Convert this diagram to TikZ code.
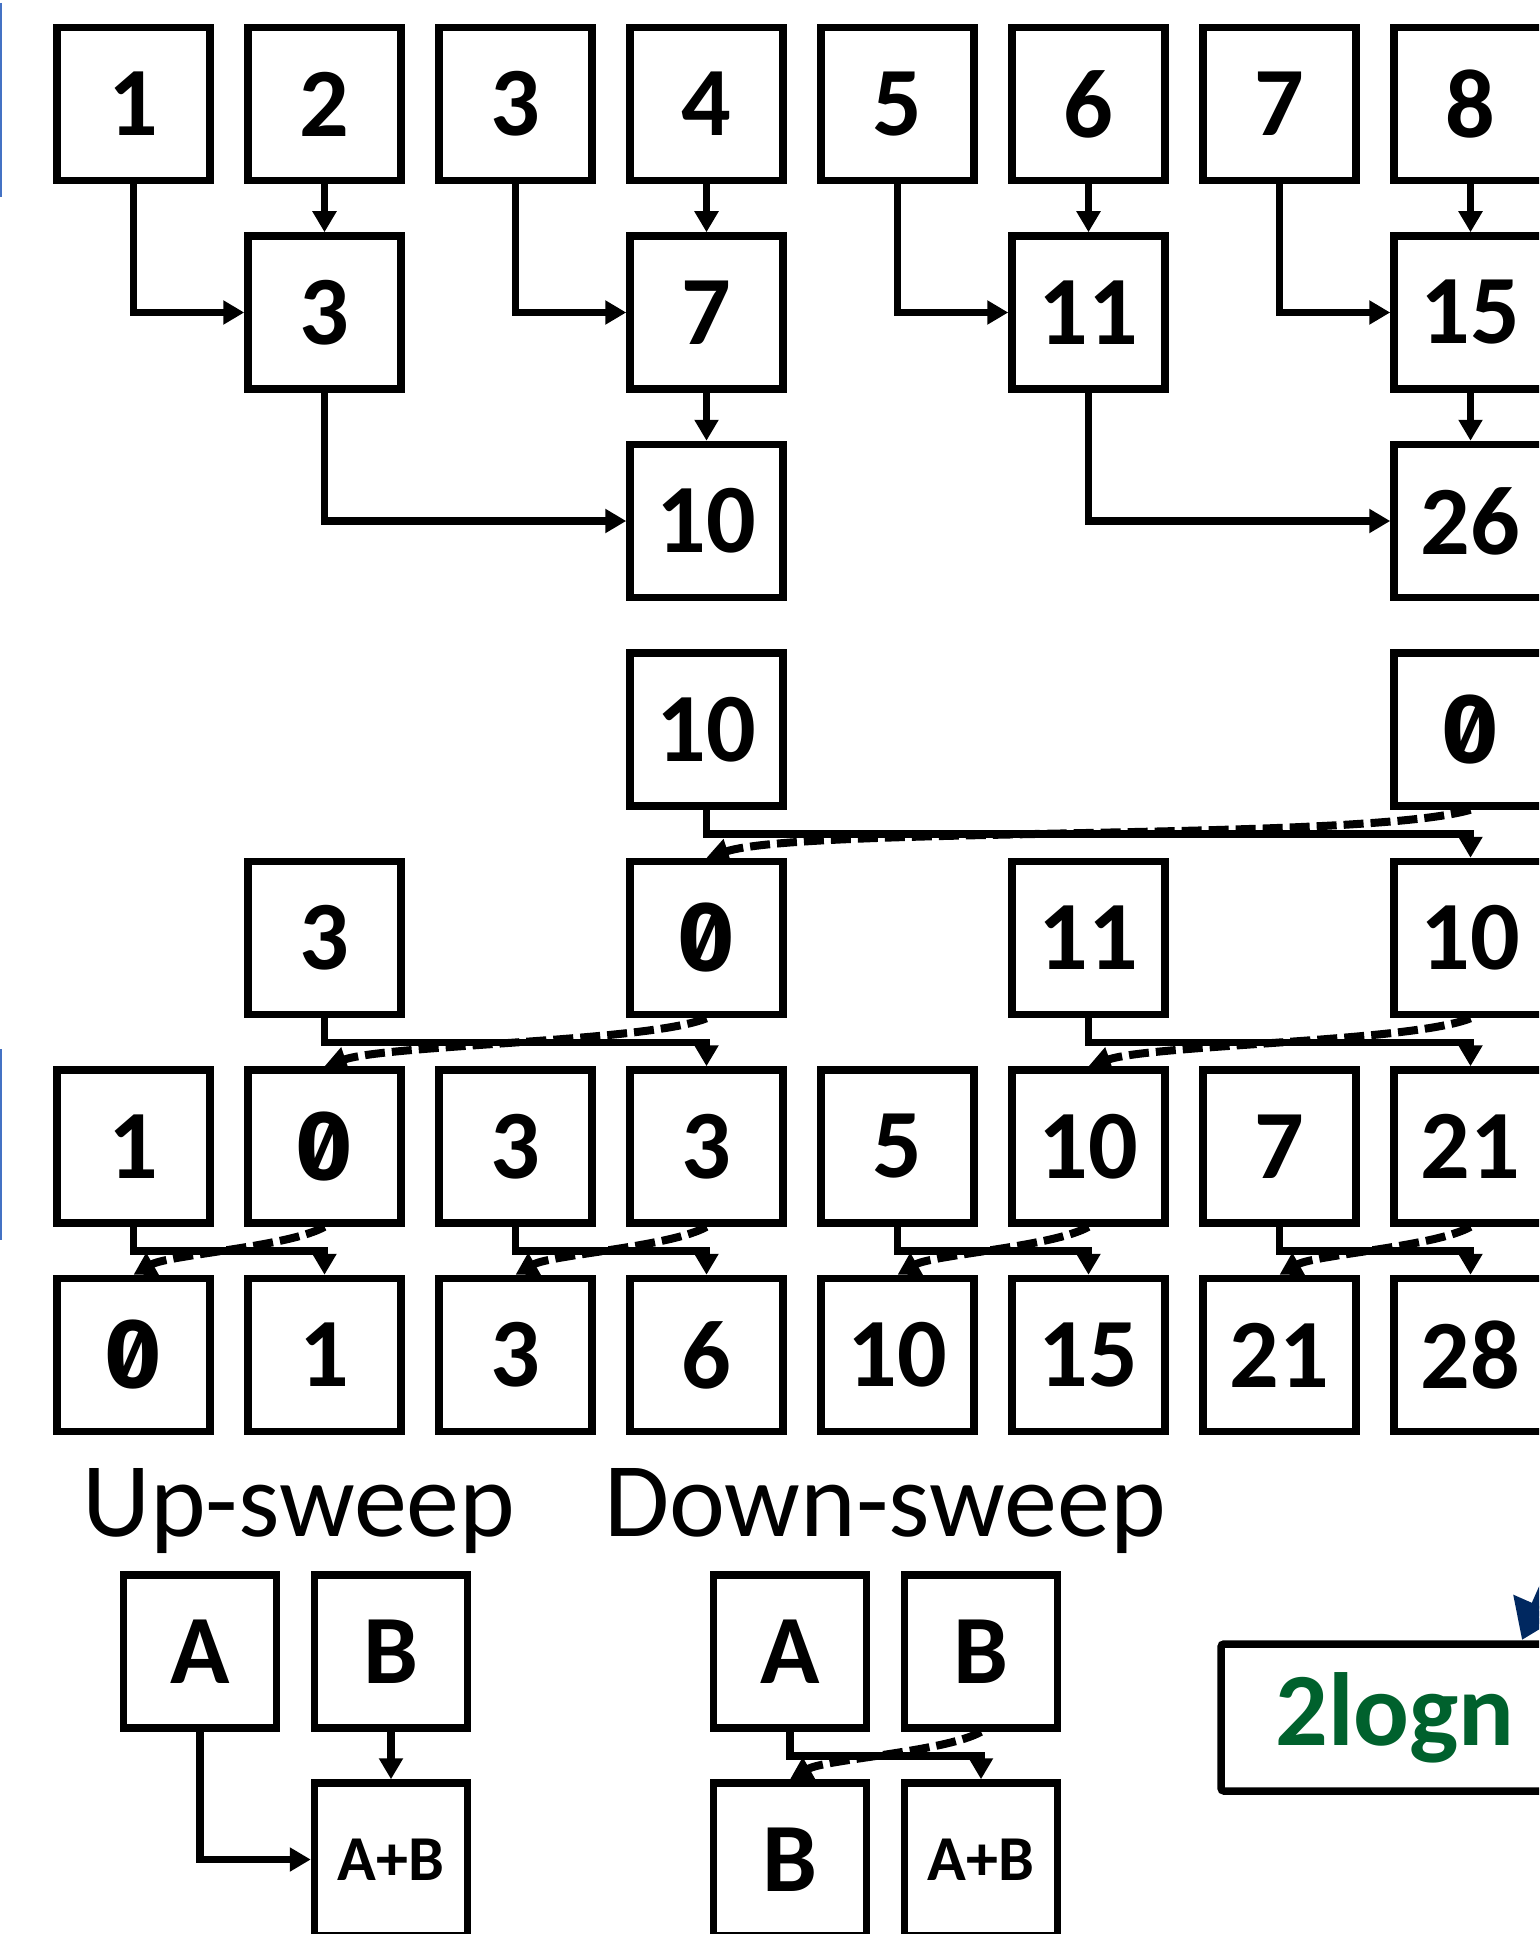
\documentclass[tikz,border=0pt]{standalone}
\usepackage{fontspec}
\setmainfont{Carlito}
\newfontfamily\zerofont[RawFeature=+zero]{Fira Sans}
\usetikzlibrary{arrows.meta,calc}
\definecolor{lgreen}{RGB}{0,97,45}
\definecolor{navyarrow}{RGB}{0,40,96}
\definecolor{leftblue}{RGB}{68,114,196}
\begin{document}
\begin{tikzpicture}[x=1pt,y=1pt,
  cell/.style={draw, line width=7.5pt, minimum width=153pt, minimum height=153pt, inner sep=0pt,
    font=\fontsize{98}{98}\selectfont\bfseries},
  zcell/.style={cell, font=\fontsize{98}{98}\selectfont\bfseries\zerofont},
  smallcell/.style={cell, font=\fontsize{64}{64}\selectfont\bfseries},
  link/.style={line width=7.5pt, -{Triangle[length=21pt,width=23pt]}},
  dlink/.style={line width=8pt, dash pattern=on 20pt off 7pt, -{Triangle[length=22pt,width=24pt]}},
  sweeplabel/.style={anchor=base west, inner sep=0pt, font=\fontsize{106}{106}\selectfont},
]
\clip (0,0) rectangle (1539,-1934);
\fill[white] (0,0) rectangle (1539,-1934);

% ---------- row 1 ----------
\foreach \v [count=\i] in {1,2,3,4,5,6,7,8}
  \node[cell] (r1c\i) at ({133.5+191*(\i-1)}, -104) {\v};
% ---------- row 2 ----------
\node[cell] (r2c2) at (324.5,-312.5) {3};
\node[cell] (r2c4) at (706.5,-312.5) {7};
\node[cell] (r2c6) at (1088.5,-312.5) {11};
\node[cell] (r2c8) at (1470.5,-312.5) {15};
% ---------- row 3 ----------
\node[cell] (r3c4) at (706.5,-521) {10};
\node[cell] (r3c8) at (1470.5,-521) {26};
% ---------- row 4 ----------
\node[cell]  (r4c4) at (706.5,-729.5) {10};
\node[zcell] (r4c8) at (1470.5,-729.5) {0};
% ---------- row 5 ----------
\node[cell]  (r5c2) at (324.5,-938) {3};
\node[zcell] (r5c4) at (706.5,-938) {0};
\node[cell]  (r5c6) at (1088.5,-938) {11};
\node[cell]  (r5c8) at (1470.5,-938) {10};
% ---------- row 6 ----------
\node[cell]  (r6c1) at (133.5,-1146.5) {1};
\node[zcell] (r6c2) at (324.5,-1146.5) {0};
\node[cell]  (r6c3) at (515.5,-1146.5) {3};
\node[cell]  (r6c4) at (706.5,-1146.5) {3};
\node[cell]  (r6c5) at (897.5,-1146.5) {5};
\node[cell]  (r6c6) at (1088.5,-1146.5) {10};
\node[cell]  (r6c7) at (1279.5,-1146.5) {7};
\node[cell]  (r6c8) at (1470.5,-1146.5) {21};
% ---------- row 7 ----------
\node[zcell] (r7c1) at (133.5,-1355) {0};
\node[cell]  (r7c2) at (324.5,-1355) {1};
\node[cell]  (r7c3) at (515.5,-1355) {3};
\node[cell]  (r7c4) at (706.5,-1355) {6};
\node[cell]  (r7c5) at (897.5,-1355) {10};
\node[cell]  (r7c6) at (1088.5,-1355) {15};
\node[cell]  (r7c7) at (1279.5,-1355) {21};
\node[cell]  (r7c8) at (1470.5,-1355) {28};

% ---------- up-sweep connectors ----------
\draw[link] (r1c1.south) |- (r2c2.west);
\draw[link] (r1c2.south) -- (r2c2.north);
\draw[link] (r1c3.south) |- (r2c4.west);
\draw[link] (r1c4.south) -- (r2c4.north);
\draw[link] (r1c5.south) |- (r2c6.west);
\draw[link] (r1c6.south) -- (r2c6.north);
\draw[link] (r1c7.south) |- (r2c8.west);
\draw[link] (r1c8.south) -- (r2c8.north);
\draw[link] (r2c2.south) |- (r3c4.west);
\draw[link] (r2c4.south) -- (r3c4.north);
\draw[link] (r2c6.south) |- (r3c8.west);
\draw[link] (r2c8.south) -- (r3c8.north);

% ---------- down-sweep connectors ----------
\draw[link] (r4c4.south) -- ++(0,-24) -| (r5c8.north);
\draw[dlink] (r4c8.south) .. controls +(-110,-32) and +(100,32) .. (r5c4.north);

\draw[link] (r5c2.south) -- ++(0,-24) -| (r6c4.north);
\draw[dlink] (r5c4.south) .. controls +(-60,-24) and +(65,22) .. (r6c2.north);
\draw[link] (r5c6.south) -- ++(0,-24) -| (r6c8.north);
\draw[dlink] (r5c8.south) .. controls +(-60,-24) and +(65,22) .. (r6c6.north);

\draw[link] (r6c1.south) -- ++(0,-24) -| (r7c2.north);
\draw[dlink] (r6c2.south) .. controls +(-35,-20) and +(35,20) .. (r7c1.north);
\draw[link] (r6c3.south) -- ++(0,-24) -| (r7c4.north);
\draw[dlink] (r6c4.south) .. controls +(-35,-20) and +(35,20) .. (r7c3.north);
\draw[link] (r6c5.south) -- ++(0,-24) -| (r7c6.north);
\draw[dlink] (r6c6.south) .. controls +(-35,-20) and +(35,20) .. (r7c5.north);
\draw[link] (r6c7.south) -- ++(0,-24) -| (r7c8.north);
\draw[dlink] (r6c8.south) .. controls +(-35,-20) and +(35,20) .. (r7c7.north);

% ---------- labels ----------
\node[sweeplabel] (lup) at (82,-1536) {Up-sweep};
\node[sweeplabel] (ldown) at (604,-1536) {Down-sweep};

% ---------- up-sweep legend ----------
\node[cell] (ua) at (200,-1651.5) {A};
\node[cell] (ub) at (391,-1651.5) {B};
\node[smallcell] (uab) at (391,-1859.5) {A+B};
\draw[link] (ua.south) |- (uab.west);
\draw[link] (ub.south) -- (uab.north);

% ---------- down-sweep legend ----------
\node[cell] (da) at (790,-1651.5) {A};
\node[cell] (db) at (981,-1651.5) {B};
\node[cell] (dbb) at (790,-1859.5) {B};
\node[smallcell] (dab) at (981,-1859.5) {A+B};
\draw[link] (da.south) -- ++(0,-24) -| (dab.north);
\draw[dlink] (db.south) .. controls +(-35,-20) and +(35,20) .. (dbb.north);

% ---------- 2logn box ----------
\node[draw, line width=7.5pt, rounded corners=3pt, minimum width=379pt, minimum height=147pt,
      inner sep=0pt, text=lgreen, font=\fontsize{104}{104}\selectfont\bfseries]
      (lg) at (1410.5,-1717.5) {\hspace*{-31pt}2logn};
\coordinate (bs) at (1566,-1540);
\coordinate (bt) at (1522,-1640);
\draw[navyarrow, line width=12pt, -{Triangle[length=38pt,width=50pt]}] (bs) -- (bt);

% ---------- left blue rules ----------
\draw[leftblue, line width=2.5pt] (1,-3) -- (1,-197);
\draw[leftblue, line width=2.5pt] (1,-1049) -- (1,-1240);
\end{tikzpicture}
\end{document}
